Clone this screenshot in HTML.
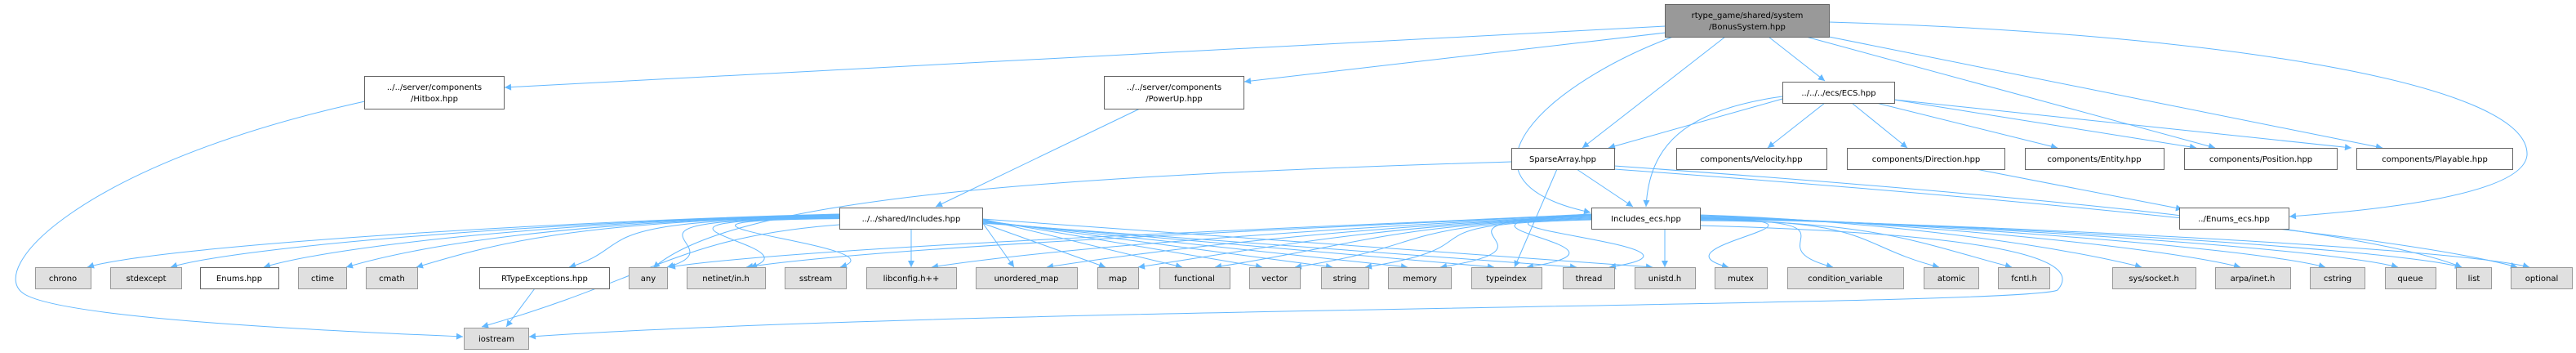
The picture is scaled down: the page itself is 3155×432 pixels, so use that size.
<!DOCTYPE html>
<html><head><meta charset="utf-8"><style>
html,body{margin:0;padding:0;background:#fff;width:3155px;height:432px;overflow:hidden}
svg text{font-family:"DejaVu Sans","Liberation Sans",sans-serif;font-size:10px;fill:#000;text-anchor:middle}
.w{fill:#fff;stroke:#666;stroke-width:1}
.g{fill:#e0e0e0;stroke:#999;stroke-width:1}
.m{fill:#999;stroke:#666;stroke-width:1}
.e{fill:none;stroke:#63b8ff;stroke-width:1}
</style></head><body>
<svg id="s" width="3155" height="432" viewBox="0 0 3155 432" xmlns="http://www.w3.org/2000/svg">
<defs><marker id="a" viewBox="0 0 10 10" refX="10" refY="5" markerWidth="10" markerHeight="8" markerUnits="userSpaceOnUse" orient="auto"><path d="M0,0 L10,5 L0,10 z" fill="#63b8ff"/></marker></defs>
<g id="edges"></g>
<g id="nodes">
<rect class="m" x="2039.5" y="5.5" width="201" height="40"/><text x="2140" y="22">rtype_game/shared/system</text><text x="2140" y="36">/BonusSystem.hpp</text>
<rect class="w" x="446.5" y="93.5" width="171" height="40"/><text x="532" y="110">../../server/components</text><text x="532" y="124">/Hitbox.hpp</text>
<rect class="w" x="1352.5" y="93.5" width="171" height="40"/><text x="1438" y="110">../../server/components</text><text x="1438" y="124">/PowerUp.hpp</text>
<rect class="w" x="2183.5" y="100.5" width="137" height="26"/><text x="2252" y="117">../../../ecs/ECS.hpp</text>
<rect class="w" x="1851.5" y="181.5" width="126" height="26"/><text x="1914" y="198">SparseArray.hpp</text>
<rect class="w" x="2053.5" y="181.5" width="184" height="26"/><text x="2145" y="198">components/Velocity.hpp</text>
<rect class="w" x="2262.5" y="181.5" width="193" height="26"/><text x="2359" y="198">components/Direction.hpp</text>
<rect class="w" x="2480.5" y="181.5" width="170" height="26"/><text x="2565" y="198">components/Entity.hpp</text>
<rect class="w" x="2675.5" y="181.5" width="187" height="26"/><text x="2769" y="198">components/Position.hpp</text>
<rect class="w" x="2886.5" y="181.5" width="191" height="26"/><text x="2982" y="198">components/Playable.hpp</text>
<rect class="w" x="1028.5" y="254.5" width="175" height="26"/><text x="1116" y="271">../../shared/Includes.hpp</text>
<rect class="w" x="1949.5" y="254.5" width="133" height="26"/><text x="2016" y="271">Includes_ecs.hpp</text>
<rect class="w" x="2669.5" y="254.5" width="134" height="26"/><text x="2736" y="271">../Enums_ecs.hpp</text>
<rect class="g" x="43.5" y="327.5" width="68" height="26"/><text x="77" y="344">chrono</text>
<rect class="g" x="135.5" y="327.5" width="87" height="26"/><text x="179" y="344">stdexcept</text>
<rect class="w" x="245.5" y="327.5" width="96" height="26"/><text x="293" y="344">Enums.hpp</text>
<rect class="g" x="365.5" y="327.5" width="59" height="26"/><text x="395" y="344">ctime</text>
<rect class="g" x="448.5" y="327.5" width="63" height="26"/><text x="480" y="344">cmath</text>
<rect class="w" x="587.5" y="327.5" width="159" height="26"/><text x="667" y="344">RTypeExceptions.hpp</text>
<rect class="g" x="770.5" y="327.5" width="47" height="26"/><text x="794" y="344">any</text>
<rect class="g" x="841.5" y="327.5" width="96" height="26"/><text x="889" y="344">netinet/in.h</text>
<rect class="g" x="961.5" y="327.5" width="75" height="26"/><text x="999" y="344">sstream</text>
<rect class="g" x="1061.5" y="327.5" width="110" height="26"/><text x="1116" y="344">libconfig.h++</text>
<rect class="g" x="1195.5" y="327.5" width="124" height="26"/><text x="1257" y="344">unordered_map</text>
<rect class="g" x="1344.5" y="327.5" width="50" height="26"/><text x="1369" y="344">map</text>
<rect class="g" x="1420.5" y="327.5" width="86" height="26"/><text x="1463" y="344">functional</text>
<rect class="g" x="1530.5" y="327.5" width="62" height="26"/><text x="1561" y="344">vector</text>
<rect class="g" x="1618.5" y="327.5" width="58" height="26"/><text x="1647" y="344">string</text>
<rect class="g" x="1700.5" y="327.5" width="77" height="26"/><text x="1739" y="344">memory</text>
<rect class="g" x="1802.5" y="327.5" width="86" height="26"/><text x="1845" y="344">typeindex</text>
<rect class="g" x="1914.5" y="327.5" width="63" height="26"/><text x="1946" y="344">thread</text>
<rect class="g" x="2002.5" y="327.5" width="74" height="26"/><text x="2039" y="344">unistd.h</text>
<rect class="g" x="2100.5" y="327.5" width="64" height="26"/><text x="2132" y="344">mutex</text>
<rect class="g" x="2189.5" y="327.5" width="142" height="26"/><text x="2260" y="344">condition_variable</text>
<rect class="g" x="2356.5" y="327.5" width="67" height="26"/><text x="2390" y="344">atomic</text>
<rect class="g" x="2447.5" y="327.5" width="63" height="26"/><text x="2479" y="344">fcntl.h</text>
<rect class="g" x="2587.5" y="327.5" width="102" height="26"/><text x="2638" y="344">sys/socket.h</text>
<rect class="g" x="2713.5" y="327.5" width="92" height="26"/><text x="2759" y="344">arpa/inet.h</text>
<rect class="g" x="2829.5" y="327.5" width="67" height="26"/><text x="2863" y="344">cstring</text>
<rect class="g" x="2921.5" y="327.5" width="62" height="26"/><text x="2952" y="344">queue</text>
<rect class="g" x="3008.5" y="327.5" width="43" height="26"/><text x="3030" y="344">list</text>
<rect class="g" x="3075.5" y="327.5" width="75" height="26"/><text x="3113" y="344">optional</text>
<rect class="g" x="568.5" y="401.5" width="79" height="26"/><text x="608" y="418">iostream</text>
</g>
</svg>
<script>
var g=document.getElementById('edges');
function P(d){var p=document.createElementNS('http://www.w3.org/2000/svg','path');p.setAttribute('d',d);p.setAttribute('class','e');p.setAttribute('marker-end','url(#a)');g.appendChild(p);}
function L(x1,y1,x2,y2){P('M'+x1+','+y1+' L'+x2+','+y2);}
function C(x1,y1,a,b,c,d,x2,y2){P('M'+x1+','+y1+' C'+a+','+b+' '+c+','+d+' '+x2+','+y2);}
// main
L(2040,32,618,107);L(2040,40,1524,100);L(2113,45,1938,181);
C(2049,45,1900,100,1760,220,1948,260);
L(2166,45,2235,99);L(2212,45,2713,181);L(2240,45,2918,181);
P('M2240,27 C2700,40 3100,100 3095,190 C3090,240 2900,258 2804,265');
// ECS
L(2183,121,1970,181);C(2183,118,2060,135,2020,180,2016,253);
L(2235,126,2165,181);L(2268,126,2336,181);L(2298,126,2520,181);L(2320,122,2690,181);L(2320,122,2880,181);
L(2420,207,2673,256);
// sparse
L(1931,207,2000,253);C(1851,198,1300,215,900,240,800,328);L(1907,207,1855,327);
C(1977,203,2500,240,2900,280,3015,327);C(1977,207,2500,245,2950,290,3083,327);
// hitbox
P('M447,124 C100,200 -20,330 30,360 C80,390 400,405 567,412');
L(1396,133,1146,253);
// Includes.hpp
var t=[[77,111],[179,222],[293,341],[395,424],[480,511],[667,746],[794,817],[889,937],[999,1036],[1116,1171],[1257,1319],[1369,1394],[1463,1506],[1561,1592],[1647,1676],[1739,1777],[1845,1888],[1946,1977],[2039,2076]];
t.forEach(function(v,i){var tx=v[0],ty=327;
 if(tx<1028){C(1028,262+i*0.7,700,270,tx+120,300,Math.min(v[1],tx+30),ty);}
 else if(tx<1210){L(Math.max(1040,Math.min(1195,tx)),280,tx,ty);}
 else{L(1203,268+(i%6),tx-15,ty);}
});
C(1028,275,830,290,800,340,590,400);L(655,353,620,400);
// Includes_ecs
var u=[[794],[889],[1116],[1257],[1369],[1463],[1561],[1647],[1739],[1845],[1946],[2039],[2132],[2260],[2390],[2479],[2638],[2759],[2863],[2952],[3030],[3113]];
u.forEach(function(v,i){var tx=v[0];
 if(tx<1949){C(1949,262+(i%8),1700,275,tx+200,300,tx+25,327);}
 else if(tx<2090){L(Math.max(1960,Math.min(2075,tx)),280,tx,327);}
 else{C(2082,263+(i%8),2300,270,tx-120,300,tx-15,327);}
});
P('M2082,276 C2400,285 2560,310 2520,355 C2480,375 1200,375 648,412');
</script>
</body></html>
